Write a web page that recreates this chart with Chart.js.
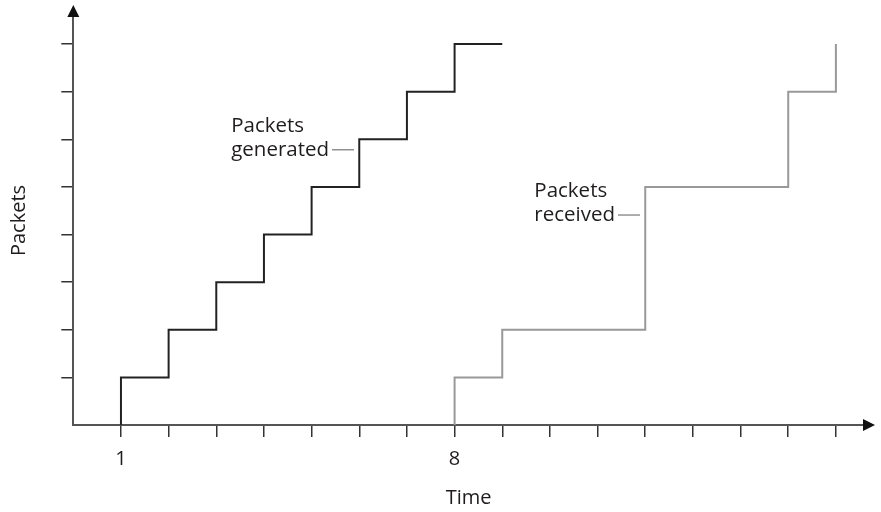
<!DOCTYPE html>
<html>
<head>
<meta charset="utf-8">
<script src="https://cdn.jsdelivr.net/npm/chart.js@4.4.1/dist/chart.umd.min.js"></script>
<style>
  html, body { margin: 0; padding: 0; background: #fff; }
  #wrap { width: 881px; height: 512px; }
</style>
</head>
<body>
<div id="wrap"><canvas id="packetChart"></canvas></div>
<script>
// Paket yang dibuat: waktu dan jumlah kumulatif
const genTime = [1, 1, 2, 3, 4, 5, 6, 7, 8, 9];
const genCount = [0, 1, 2, 3, 4, 5, 6, 7, 8, 8];

// Paket yang diterima
const recvTime = [8, 8, 9, 12, 15, 16];
const recvCount = [0, 1, 2, 5, 7, 8];

// Label sumbu x yang ditampilkan
const xLabelTicks = [1, 8];

const axisColor = '#555555';
const textColor = '#1f1c1d';

// Anotasi: titik ujung garis penunjuk (koordinat data)
const notes = [
    { lines: ['Packets', 'generated'], x: 5.89, y: 5.78, len: 22 },
    { lines: ['Packets', 'received'], x: 11.89, y: 4.41, len: 22 }
];

function toPoints(xs, ys) {
    return xs.map((x, i) => ({ x: x, y: ys[i] }));
}

// Plugin untuk panah sumbu dan label anotasi
const extrasPlugin = {
    id: 'extras',
    afterDraw(chart) {
        const ctx = chart.ctx;
        const area = chart.chartArea;
        const xs = chart.scales.x;
        const ys = chart.scales.y;
        const x0 = xs.getPixelForValue(0);
        const y0 = ys.getPixelForValue(0);

        ctx.save();
        ctx.fillStyle = '#111';
        // panah x
        ctx.beginPath();
        ctx.moveTo(area.right - 1, y0 - 6);
        ctx.lineTo(area.right + 11, y0);
        ctx.lineTo(area.right - 1, y0 + 6);
        ctx.closePath();
        ctx.fill();
        // panah y
        ctx.beginPath();
        ctx.moveTo(x0 - 6, area.top + 1);
        ctx.lineTo(x0, area.top - 11);
        ctx.lineTo(x0 + 6, area.top + 1);
        ctx.closePath();
        ctx.fill();

        // anotasi
        ctx.font = '20.5px "Open Sans"';
        ctx.textBaseline = 'alphabetic';
        ctx.textAlign = 'left';
        notes.forEach(n => {
            const px = xs.getPixelForValue(n.x);
            const py = ys.getPixelForValue(n.y);
            ctx.strokeStyle = '#777';
            ctx.lineWidth = 1.2;
            ctx.beginPath();
            ctx.moveTo(px - n.len, py);
            ctx.lineTo(px, py);
            ctx.stroke();
            const last = n.lines[n.lines.length - 1];
            const tx = px - n.len - 3 - ctx.measureText(last).width;
            ctx.fillStyle = textColor;
            n.lines.forEach((t, i) => {
                const by = py + 6 - (n.lines.length - 1 - i) * 24;
                ctx.fillText(t, tx, by);
            });
        });
        ctx.restore();
    }
};

document.addEventListener('DOMContentLoaded', () => {
    Chart.defaults.font.family = '"Open Sans", sans-serif';
    Chart.defaults.color = textColor;

    const ctx = document.getElementById('packetChart').getContext('2d');
    new Chart(ctx, {
        type: 'line',
        data: {
            datasets: [
                { label: 'Packets generated', data: toPoints(genTime, genCount), borderColor: '#222222', borderWidth: 2, stepped: 'before', pointRadius: 0, fill: false },
                { label: 'Packets received', data: toPoints(recvTime, recvCount), borderColor: '#999999', borderWidth: 2, stepped: 'before', pointRadius: 0, fill: false }
            ]
        },
        options: {
            responsive: true,
            maintainAspectRatio: false,
            animation: false,
            layout: { padding: { left: 0, top: 16, right: 17, bottom: 0 } },
            plugins: { legend: { display: false }, tooltip: { enabled: false } },
            scales: {
                x: {
                    type: 'linear',
                    min: 0,
                    max: 16.59,
                    afterFit: (s) => { s.height = 87; },
                    border: { display: true, color: axisColor, width: 2 },
                    grid: {
                        drawOnChartArea: false,
                        drawTicks: true,
                        tickLength: 12,
                        lineWidth: 1.5,
                        color: (c) => (c.tick && c.tick.value === 0) ? 'rgba(0,0,0,0)' : '#333'
                    },
                    ticks: {
                        stepSize: 1,
                        includeBounds: false,
                        autoSkip: false,
                        maxRotation: 0,
                        padding: 10,
                        font: { size: 20 },
                        callback: (v) => xLabelTicks.includes(v) ? String(v) : ''
                    },
                    title: { display: true, text: 'Time', font: { size: 20 }, padding: { top: 0, bottom: 2 } }
                },
                y: {
                    min: 0,
                    max: 8.59,
                    afterFit: (s) => { s.width = 73.3; },
                    border: { display: true, color: axisColor, width: 2 },
                    grid: {
                        drawOnChartArea: false,
                        drawTicks: true,
                        tickLength: 12,
                        lineWidth: 1.5,
                        color: (c) => (c.tick && c.tick.value === 0) ? 'rgba(0,0,0,0)' : '#333'
                    },
                    ticks: {
                        stepSize: 1,
                        includeBounds: false,
                        callback: () => ''
                    },
                    title: { display: true, text: 'Packets', font: { size: 20 }, padding: { top: 7, bottom: 0 } }
                }
            }
        },
        plugins: [extrasPlugin]
    });
});
</script>
</body>
</html>
